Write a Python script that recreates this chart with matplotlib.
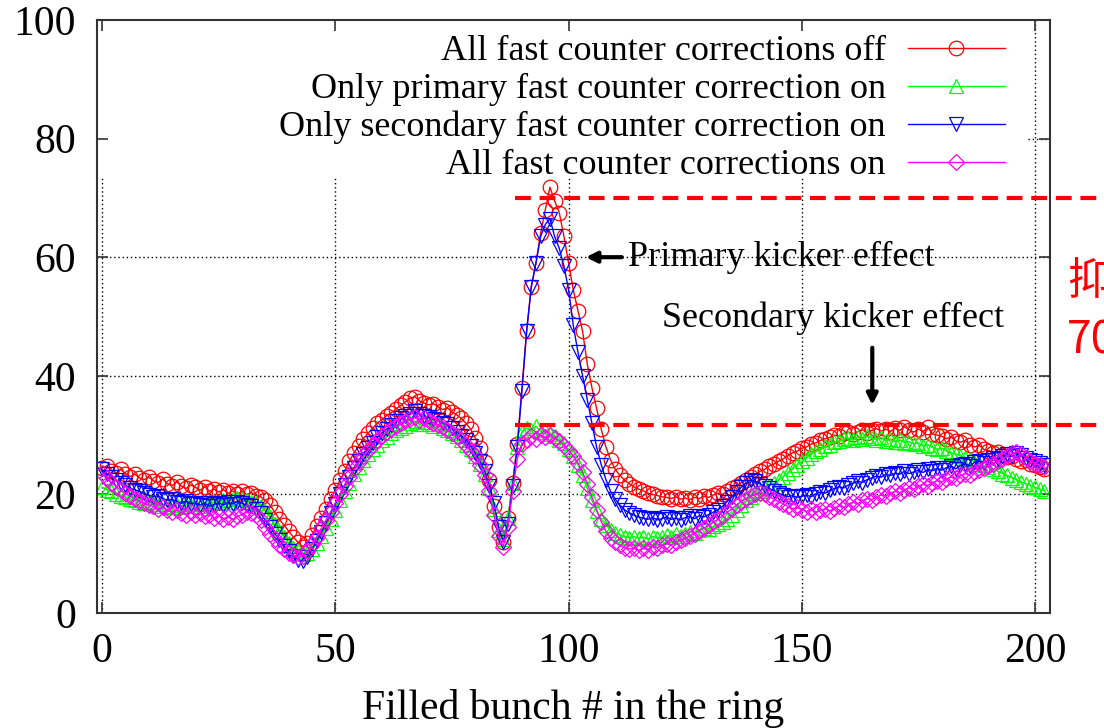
import numpy as np
import matplotlib
matplotlib.use("Agg")
import matplotlib.pyplot as plt

plt.rcParams['font.family'] = ['Liberation Serif', 'DejaVu Serif']

# bunch index 0..202
bunch = np.arange(203)

all_off = [
    24.5, 24.8, 24.0, 23.6, 24.2, 23.5, 23.0, 23.4, 22.8, 22.5,
    22.9, 22.3, 22.0, 22.6, 21.8, 21.5, 22.1, 21.4, 21.0, 21.6,
    21.2, 20.7, 21.3, 20.5, 20.9, 20.4, 20.8, 20.2, 20.6, 20.1,
    20.5, 20.0, 20.3, 19.8, 19.6, 19.0, 18.2, 17.0, 15.8, 14.8,
    13.8, 12.8, 11.9, 11.2, 11.8, 13.2, 14.6, 16.0, 17.6, 19.2,
    20.8, 22.4, 24.0, 25.6, 27.0, 28.2, 29.4, 30.3, 31.2, 32.0,
    32.6, 33.3, 33.8, 34.4, 35.0, 35.6, 36.2, 36.5, 35.8, 35.4,
    35.1, 35.3, 34.8, 34.3, 34.6, 33.9, 33.4, 32.8, 32.0, 31.0,
    29.5, 27.8, 25.5, 22.5, 18.0, 14.5, 12.0, 16.0, 22.0, 28.5,
    38.0, 47.5, 55.0, 59.0, 64.0, 68.0, 71.8, 69.5, 67.5, 63.5,
    59.0, 54.5, 51.0, 47.5, 42.0, 38.0, 34.5, 31.0, 28.0, 25.8,
    24.2, 23.2, 22.4, 21.8, 21.3, 20.9, 20.6, 20.2, 20.0, 19.8,
    19.6, 19.5, 19.3, 19.6, 19.2, 19.4, 19.1, 19.5, 19.3, 19.7,
    19.5, 19.9, 20.2, 20.0, 20.5, 21.0, 21.4, 22.0, 22.5, 23.0,
    23.4, 23.9, 24.2, 24.8, 25.1, 25.6, 26.0, 26.5, 27.0, 27.3,
    27.8, 28.0, 28.5, 28.7, 29.1, 29.4, 29.6, 30.0, 29.8, 30.3,
    30.5, 30.2, 30.6, 30.9, 30.4, 30.8, 31.1, 30.7, 31.0, 30.6,
    31.2, 30.8, 31.4, 30.9, 30.5, 31.0, 30.6, 31.3, 30.2, 30.0,
    29.8, 29.4, 29.7, 29.0, 28.8, 29.1, 28.4, 28.0, 28.3, 27.6,
    27.4, 27.0, 27.2, 26.6, 26.3, 26.5, 25.9, 25.6, 25.8, 25.2,
    24.9, 24.6, 24.3,
]

primary_on = [
    21.2, 20.8, 20.5, 20.1, 19.8, 19.6, 19.2, 19.0, 18.8, 18.5,
    18.7, 18.3, 18.0, 18.4, 18.1, 17.8, 18.2, 17.9, 18.3, 18.0,
    18.4, 18.1, 18.6, 18.3, 18.8, 18.5, 19.0, 18.7, 19.2, 19.4,
    19.2, 19.0, 18.8, 18.5, 18.0, 17.2, 16.2, 15.0, 13.8, 12.8,
    11.8, 11.0, 10.4, 9.9, 10.2, 10.8, 11.8, 13.0, 14.4, 15.8,
    17.4, 19.0, 20.6, 22.0, 23.4, 24.6, 25.8, 26.8, 27.6, 28.4,
    29.1, 29.7, 30.3, 30.8, 31.2, 31.6, 32.0, 32.4, 31.8, 32.2,
    31.9, 31.5, 31.8, 31.2, 30.8, 30.4, 29.8, 29.2, 28.4, 27.6,
    26.5, 25.2, 23.5, 21.0, 17.5, 14.0, 12.5, 16.0, 22.0, 28.0,
    30.5, 31.2, 30.8, 31.5, 30.6, 30.9, 30.2, 29.8, 29.2, 28.6,
    27.6, 26.4, 25.0, 23.2, 21.0, 19.0, 17.2, 15.8, 14.8, 14.0,
    13.5, 13.2, 12.9, 12.7, 12.9, 12.6, 12.8, 12.5, 12.9, 12.6,
    12.8, 13.1, 12.9, 13.3, 13.0, 13.4, 13.7, 13.5, 14.0, 14.3,
    14.1, 14.6, 15.0, 15.4, 15.9, 16.6, 17.4, 18.2, 19.0, 19.6,
    20.2, 20.6, 21.0, 21.5, 21.9, 22.4, 23.0, 23.6, 24.3, 25.0,
    25.6, 26.2, 26.8, 27.3, 27.7, 28.1, 28.4, 28.8, 29.0, 29.3,
    29.5, 29.2, 29.7, 29.4, 29.8, 29.5, 29.2, 29.6, 29.0, 29.3,
    28.9, 29.2, 28.7, 28.9, 28.5, 28.7, 28.2, 28.4, 27.9, 27.6,
    27.8, 27.3, 27.0, 26.8, 26.5, 26.2, 25.9, 25.5, 25.2, 24.9,
    24.6, 24.2, 23.9, 23.5, 23.2, 22.8, 22.5, 22.1, 21.8, 21.5,
    21.2, 20.9, 20.6,
]

secondary_on = [
    24.2, 23.5, 23.0, 22.4, 22.0, 21.6, 21.0, 20.8, 20.5, 20.2,
    19.9, 19.6, 19.8, 19.3, 19.0, 19.2, 18.8, 18.5, 18.9, 18.4,
    18.6, 18.2, 18.5, 18.0, 18.3, 18.6, 18.2, 18.7, 18.4, 18.8,
    18.5, 18.2, 18.0, 17.6, 16.8, 15.6, 14.5, 13.4, 12.3, 11.3,
    10.4, 9.6, 9.0, 8.7, 9.5, 10.8, 12.2, 13.6, 15.2, 16.8,
    18.4, 20.0, 21.6, 23.0, 24.4, 25.6, 26.8, 27.8, 28.7, 29.6,
    30.4, 31.0, 31.7, 32.3, 32.8, 33.2, 33.6, 34.0, 33.5, 33.2,
    33.0, 32.7, 32.5, 32.1, 31.8, 31.2, 30.6, 29.9, 29.2, 28.2,
    27.0, 25.6, 24.0, 21.5, 18.5, 14.5, 12.0, 15.0, 21.5, 28.0,
    37.5, 47.5, 55.0, 59.0, 63.5, 65.5, 66.5, 63.5, 61.5, 58.5,
    54.5, 48.5, 44.0, 40.0, 36.0, 32.0, 28.0, 25.0, 22.5, 20.5,
    19.2, 18.2, 17.4, 16.9, 16.5, 16.2, 16.0, 15.8, 16.1, 15.7,
    15.9, 16.2, 15.8, 16.0, 15.7, 16.1, 16.3, 15.9, 16.4, 16.2,
    16.6, 17.0, 17.4, 18.0, 18.8, 19.6, 20.4, 21.2, 21.9, 22.4,
    22.2, 21.8, 21.4, 21.0, 20.6, 20.2, 19.9, 19.6, 19.8, 19.5,
    19.7, 19.9, 19.6, 20.1, 20.4, 20.2, 20.7, 21.0, 21.3, 21.1,
    21.6, 21.9, 22.2, 22.0, 22.5, 22.8, 23.1, 22.9, 23.4, 23.2,
    23.6, 23.4, 23.9, 23.5, 23.8, 24.1, 23.7, 24.2, 24.0, 24.4,
    24.1, 24.5, 24.8, 24.3, 24.9, 25.2, 24.8, 25.4, 25.7, 25.3,
    25.8, 26.2, 25.9, 26.5, 26.8, 26.4, 27.0, 26.6, 26.2, 25.8,
    25.6, 25.3, 25.0,
]

all_on = [
    23.6, 22.8, 22.0, 21.3, 20.7, 20.2, 19.7, 19.3, 18.9, 18.5,
    18.2, 18.0, 17.6, 17.8, 17.3, 17.0, 17.4, 16.9, 16.6, 17.0,
    16.5, 16.8, 16.3, 16.6, 16.0, 16.4, 15.9, 16.2, 15.8, 16.3,
    16.6, 17.0, 16.9, 16.5, 15.6, 14.5, 13.4, 12.4, 11.5, 10.8,
    10.2, 9.7, 9.4, 9.6, 10.4, 11.6, 12.9, 14.3, 15.7, 17.1,
    18.6, 20.1, 21.5, 22.9, 24.2, 25.4, 26.5, 27.5, 28.4, 29.2,
    29.9, 30.5, 31.1, 31.6, 32.0, 32.4, 32.7, 33.0, 32.6, 32.8,
    32.4, 32.1, 31.7, 31.3, 30.9, 30.4, 29.8, 29.1, 28.3, 27.4,
    26.4, 25.0, 23.2, 20.5, 16.5, 13.0, 11.2, 14.5, 20.5, 26.0,
    28.5, 29.2, 29.8, 29.4, 30.0, 29.6, 30.1, 29.5, 29.0, 28.2,
    27.4, 26.5, 25.3, 23.8, 21.8, 19.6, 17.4, 15.4, 13.8, 12.6,
    11.9, 11.4, 11.0, 10.8, 10.9, 10.6, 10.9, 10.7, 11.2, 11.0,
    11.4, 11.7, 11.5, 12.0, 12.3, 12.6, 13.0, 13.4, 13.9, 14.3,
    14.8, 15.3, 15.8, 16.4, 17.0, 17.6, 18.2, 18.8, 19.3, 19.7,
    20.0, 20.3, 20.0, 19.6, 19.2, 18.8, 18.4, 18.0, 17.6, 17.8,
    17.4, 17.1, 17.5, 17.0, 17.3, 17.6, 17.2, 17.7, 18.1, 17.8,
    18.3, 18.7, 18.4, 19.0, 19.3, 19.1, 19.6, 19.9, 19.7, 20.2,
    20.5, 20.3, 20.8, 21.1, 20.9, 21.4, 21.7, 21.5, 22.0, 22.3,
    22.1, 22.6, 22.9, 22.7, 23.2, 23.5, 23.3, 23.8, 24.1, 24.5,
    24.8, 25.2, 25.6, 26.0, 26.5, 26.9, 27.2, 26.8, 26.2, 25.6,
    25.2, 24.9, 24.6,
]

labels = [
    'All fast counter corrections off',
    'Only primary fast counter correction on',
    'Only secondary fast counter correction on',
    'All fast counter corrections on',
]
series = [all_off, primary_on, secondary_on, all_on]
colors = ['#ff0000', '#00ff00', '#0000ff', '#ff00ff']
markers = ['o', '^', 'v', 'D']
msizes = [10.5, 10, 10, 8]

xticks = [0, 50, 100, 150, 200]
yticks = [0, 20, 40, 60, 80, 100]
levels = [70.0, 31.7]      # red dashed reference lines
level_start = 88.5

fig = plt.figure(figsize=(11.04, 7.28), dpi=100)
ax = fig.add_axes([97 / 1104, 115 / 728, 953 / 1104, 593 / 728])

# gnuplot-like dotted grid, hidden behind the key area at the top
grid_kw = dict(color='black', linewidth=1.0, linestyles=(0, (1, 2)), zorder=1)
ax.vlines(xticks[:-1], 0, 73.5, **grid_kw)
ax.vlines(xticks[-1:], 0, 100, **grid_kw)
ax.hlines(yticks[1:4], -1.1, 203.2, **grid_kw)
ax.hlines(yticks[4:5], 198.5, 203.2, **grid_kw)

for vals, lab, c, m, ms in zip(series, labels, colors, markers, msizes):
    ax.plot(bunch, vals, color=c, marker=m, markersize=ms, markerfacecolor='none',
            markeredgewidth=0.9, linewidth=1.0, label=lab, zorder=2)

for lv in levels:
    ax.plot([level_start, 215], [lv, lv], color='#ff0000', linewidth=3,
            linestyle=(0, (3.8, 2.1)), clip_on=False, zorder=5)

ax.set_xlim(-1.1, 203.2)
ax.set_ylim(0, 100)
ax.set_xticks(xticks)
ax.set_yticks(yticks)
ax.tick_params(direction='in', length=8, width=1.2, top=True, right=True,
               labelsize=30, color='#333333')
ax.tick_params(axis='x', pad=14)
ax.tick_params(axis='y', pad=15)
for s in ax.spines.values():
    s.set_linewidth(1.5)
    s.set_color('#333333')

ax.set_xlabel('Filled bunch # in the ring', fontsize=30, labelpad=13)

leg = ax.legend(loc='upper right', bbox_to_anchor=(1005 / 1104, 1 - 35 / 728),
                bbox_transform=fig.transFigure, frameon=False, fontsize=26,
                markerfirst=False, handlelength=2.7, handletextpad=0.6,
                labelspacing=0.13, borderpad=0, borderaxespad=0, numpoints=1)

# kicker annotations
ax.annotate('', xy=(103.1, 60), xytext=(112, 60),
            arrowprops=dict(arrowstyle='-|>', color='black', lw=3, mutation_scale=16))
ax.text(112.8, 60, 'Primary kicker effect', fontsize=26, va='center', ha='left')
ax.text(120, 49.7, 'Secondary kicker effect', fontsize=26, va='center', ha='left')
ax.annotate('', xy=(165.1, 34.6), xytext=(165.1, 45.2),
            arrowprops=dict(arrowstyle='-|>', color='black', lw=3, mutation_scale=16))

# red note at the right edge (cut off by the picture edge, as in the source)
fig.text(1067 / 1104, 1 - 281 / 728, '抑制', color='#ff0000', fontsize=32,
         va='center', ha='left', family=['Noto Sans CJK SC', 'DejaVu Sans'])
fig.text(1067 / 1104, 1 - 341 / 728, '70%', color='#ff0000', fontsize=32,
         va='center', ha='left', family=['Noto Sans CJK SC', 'DejaVu Sans'])

fig.savefig('out.png', dpi=100)
